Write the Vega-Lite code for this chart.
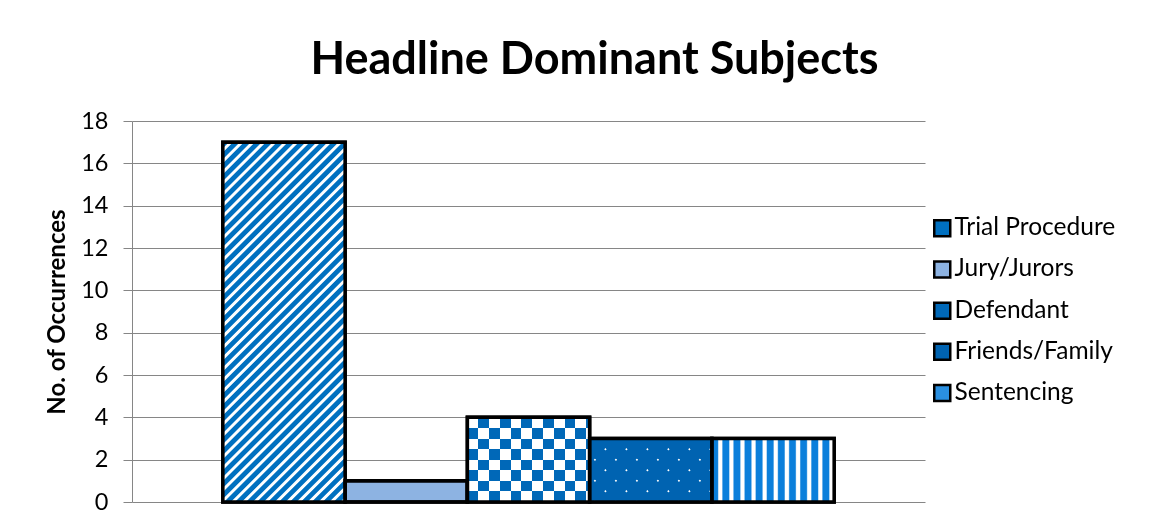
{
  "$schema": "https://vega.github.io/schema/vega-lite/v6.json",
  "width": 793,
  "height": 381,
  "autosize": "none",
  "padding": {"left": 132, "top": 121, "right": 244, "bottom": 27},
  "background": "white",
  "title": {"text": "Headline Dominant Subjects", "font": "Lato", "fontSize": 45, "fontWeight": "bold", "color": "black", "anchor": "middle", "dx": 66, "offset": 26},
  "data": {"values": [
    {"subject": "Trial Procedure", "count": 17},
    {"subject": "Jury/Jurors", "count": 1},
    {"subject": "Defendant", "count": 4},
    {"subject": "Friends/Family", "count": 3},
    {"subject": "Sentencing", "count": 3}
  ]},
  "encoding": {
    "x": {"field": "subject", "type": "nominal", "sort": null, "axis": null,
      "scale": {"domain": ["Trial Procedure", "Jury/Jurors", "Defendant", "Friends/Family", "Sentencing"], "paddingInner": 0, "paddingOuter": 0.743}},
    "y": {"field": "count", "type": "quantitative",
      "scale": {"domain": [0, 18], "nice": false},
      "axis": {"title": "No. of Occurrences", "titleFont": "Lato", "titleFontSize": 24, "titleFontWeight": "bold", "titleColor": "black", "titlePadding": 11,
        "labelFont": "Lato", "labelFontSize": 23.5, "labelColor": "black", "labelPadding": 15,
        "values": [0, 2, 4, 6, 8, 10, 12, 14, 16, 18], "tickSize": 9, "tickColor": "#868686", "domainColor": "#868686", "gridColor": "#868686", "gridOpacity": 1, "grid": true}}
  },
  "layer": [
    {"mark": {"type": "bar", "stroke": "black", "strokeWidth": 3.5},
     "encoding": {"color": {"field": "subject", "type": "nominal",
       "scale": {"domain": ["Trial Procedure", "Jury/Jurors", "Defendant", "Friends/Family", "Sentencing"], "range": ["#0070C0", "#8DB3E2", "#0068B8", "#0063B1", "#2A8FE0"]},
       "legend": {"orient": "none", "legendX": 798, "legendY": 95, "title": null, "symbolType": "square", "symbolSize": 256, "symbolStrokeColor": "black", "symbolStrokeWidth": 2.5, "symbolOpacity": 1, "labelFont": "Lato", "labelFontSize": 24.5, "labelColor": "black", "labelLimit": 400, "rowPadding": 14.2, "labelOffset": 0, "padding": 0}}}},
    {"transform": [{"filter": "datum.subject === 'Trial Procedure'"}],
     "mark": {"type": "bar", "strokeWidth": 0, "fill": {"gradient": "linear", "x1": 0, "y1": 0, "x2": 0.4081, "y2": 1.2011, "stops": [
{"offset":0,"color":"#0070C0"},{"offset":0.0114,"color":"#0070C0"},{"offset":0.0141,"color":"#ffffff"},{"offset":0.0200,"color":"#ffffff"},
{"offset":0.0227,"color":"#0070C0"},{"offset":0.0341,"color":"#0070C0"},{"offset":0.0368,"color":"#ffffff"},{"offset":0.0427,"color":"#ffffff"},
{"offset":0.0455,"color":"#0070C0"},{"offset":0.0568,"color":"#0070C0"},{"offset":0.0596,"color":"#ffffff"},{"offset":0.0655,"color":"#ffffff"},
{"offset":0.0682,"color":"#0070C0"},{"offset":0.0795,"color":"#0070C0"},{"offset":0.0823,"color":"#ffffff"},{"offset":0.0882,"color":"#ffffff"},
{"offset":0.0909,"color":"#0070C0"},{"offset":0.1023,"color":"#0070C0"},{"offset":0.1050,"color":"#ffffff"},{"offset":0.1109,"color":"#ffffff"},
{"offset":0.1136,"color":"#0070C0"},{"offset":0.1250,"color":"#0070C0"},{"offset":0.1277,"color":"#ffffff"},{"offset":0.1336,"color":"#ffffff"},
{"offset":0.1364,"color":"#0070C0"},{"offset":0.1477,"color":"#0070C0"},{"offset":0.1505,"color":"#ffffff"},{"offset":0.1564,"color":"#ffffff"},
{"offset":0.1591,"color":"#0070C0"},{"offset":0.1705,"color":"#0070C0"},{"offset":0.1732,"color":"#ffffff"},{"offset":0.1791,"color":"#ffffff"},
{"offset":0.1818,"color":"#0070C0"},{"offset":0.1932,"color":"#0070C0"},{"offset":0.1959,"color":"#ffffff"},{"offset":0.2018,"color":"#ffffff"},
{"offset":0.2045,"color":"#0070C0"},{"offset":0.2159,"color":"#0070C0"},{"offset":0.2186,"color":"#ffffff"},{"offset":0.2245,"color":"#ffffff"},
{"offset":0.2273,"color":"#0070C0"},{"offset":0.2386,"color":"#0070C0"},{"offset":0.2414,"color":"#ffffff"},{"offset":0.2473,"color":"#ffffff"},
{"offset":0.2500,"color":"#0070C0"},{"offset":0.2614,"color":"#0070C0"},{"offset":0.2641,"color":"#ffffff"},{"offset":0.2700,"color":"#ffffff"},
{"offset":0.2727,"color":"#0070C0"},{"offset":0.2841,"color":"#0070C0"},{"offset":0.2868,"color":"#ffffff"},{"offset":0.2927,"color":"#ffffff"},
{"offset":0.2955,"color":"#0070C0"},{"offset":0.3068,"color":"#0070C0"},{"offset":0.3096,"color":"#ffffff"},{"offset":0.3155,"color":"#ffffff"},
{"offset":0.3182,"color":"#0070C0"},{"offset":0.3295,"color":"#0070C0"},{"offset":0.3323,"color":"#ffffff"},{"offset":0.3382,"color":"#ffffff"},
{"offset":0.3409,"color":"#0070C0"},{"offset":0.3523,"color":"#0070C0"},{"offset":0.3550,"color":"#ffffff"},{"offset":0.3609,"color":"#ffffff"},
{"offset":0.3636,"color":"#0070C0"},{"offset":0.3750,"color":"#0070C0"},{"offset":0.3777,"color":"#ffffff"},{"offset":0.3836,"color":"#ffffff"},
{"offset":0.3864,"color":"#0070C0"},{"offset":0.3977,"color":"#0070C0"},{"offset":0.4005,"color":"#ffffff"},{"offset":0.4064,"color":"#ffffff"},
{"offset":0.4091,"color":"#0070C0"},{"offset":0.4205,"color":"#0070C0"},{"offset":0.4232,"color":"#ffffff"},{"offset":0.4291,"color":"#ffffff"},
{"offset":0.4318,"color":"#0070C0"},{"offset":0.4432,"color":"#0070C0"},{"offset":0.4459,"color":"#ffffff"},{"offset":0.4518,"color":"#ffffff"},
{"offset":0.4545,"color":"#0070C0"},{"offset":0.4659,"color":"#0070C0"},{"offset":0.4686,"color":"#ffffff"},{"offset":0.4745,"color":"#ffffff"},
{"offset":0.4773,"color":"#0070C0"},{"offset":0.4886,"color":"#0070C0"},{"offset":0.4914,"color":"#ffffff"},{"offset":0.4973,"color":"#ffffff"},
{"offset":0.5000,"color":"#0070C0"},{"offset":0.5114,"color":"#0070C0"},{"offset":0.5141,"color":"#ffffff"},{"offset":0.5200,"color":"#ffffff"},
{"offset":0.5227,"color":"#0070C0"},{"offset":0.5341,"color":"#0070C0"},{"offset":0.5368,"color":"#ffffff"},{"offset":0.5427,"color":"#ffffff"},
{"offset":0.5455,"color":"#0070C0"},{"offset":0.5568,"color":"#0070C0"},{"offset":0.5596,"color":"#ffffff"},{"offset":0.5655,"color":"#ffffff"},
{"offset":0.5682,"color":"#0070C0"},{"offset":0.5795,"color":"#0070C0"},{"offset":0.5823,"color":"#ffffff"},{"offset":0.5882,"color":"#ffffff"},
{"offset":0.5909,"color":"#0070C0"},{"offset":0.6023,"color":"#0070C0"},{"offset":0.6050,"color":"#ffffff"},{"offset":0.6109,"color":"#ffffff"},
{"offset":0.6136,"color":"#0070C0"},{"offset":0.6250,"color":"#0070C0"},{"offset":0.6277,"color":"#ffffff"},{"offset":0.6336,"color":"#ffffff"},
{"offset":0.6364,"color":"#0070C0"},{"offset":0.6477,"color":"#0070C0"},{"offset":0.6505,"color":"#ffffff"},{"offset":0.6564,"color":"#ffffff"},
{"offset":0.6591,"color":"#0070C0"},{"offset":0.6705,"color":"#0070C0"},{"offset":0.6732,"color":"#ffffff"},{"offset":0.6791,"color":"#ffffff"},
{"offset":0.6818,"color":"#0070C0"},{"offset":0.6932,"color":"#0070C0"},{"offset":0.6959,"color":"#ffffff"},{"offset":0.7018,"color":"#ffffff"},
{"offset":0.7045,"color":"#0070C0"},{"offset":0.7159,"color":"#0070C0"},{"offset":0.7186,"color":"#ffffff"},{"offset":0.7245,"color":"#ffffff"},
{"offset":0.7273,"color":"#0070C0"},{"offset":0.7386,"color":"#0070C0"},{"offset":0.7414,"color":"#ffffff"},{"offset":0.7473,"color":"#ffffff"},
{"offset":0.7500,"color":"#0070C0"},{"offset":0.7614,"color":"#0070C0"},{"offset":0.7641,"color":"#ffffff"},{"offset":0.7700,"color":"#ffffff"},
{"offset":0.7727,"color":"#0070C0"},{"offset":0.7841,"color":"#0070C0"},{"offset":0.7868,"color":"#ffffff"},{"offset":0.7927,"color":"#ffffff"},
{"offset":0.7955,"color":"#0070C0"},{"offset":0.8068,"color":"#0070C0"},{"offset":0.8096,"color":"#ffffff"},{"offset":0.8155,"color":"#ffffff"},
{"offset":0.8182,"color":"#0070C0"},{"offset":0.8295,"color":"#0070C0"},{"offset":0.8323,"color":"#ffffff"},{"offset":0.8382,"color":"#ffffff"},
{"offset":0.8409,"color":"#0070C0"},{"offset":0.8523,"color":"#0070C0"},{"offset":0.8550,"color":"#ffffff"},{"offset":0.8609,"color":"#ffffff"},
{"offset":0.8636,"color":"#0070C0"},{"offset":0.8750,"color":"#0070C0"},{"offset":0.8777,"color":"#ffffff"},{"offset":0.8836,"color":"#ffffff"},
{"offset":0.8864,"color":"#0070C0"},{"offset":0.8977,"color":"#0070C0"},{"offset":0.9005,"color":"#ffffff"},{"offset":0.9064,"color":"#ffffff"},
{"offset":0.9091,"color":"#0070C0"},{"offset":0.9205,"color":"#0070C0"},{"offset":0.9232,"color":"#ffffff"},{"offset":0.9291,"color":"#ffffff"},
{"offset":0.9318,"color":"#0070C0"},{"offset":0.9432,"color":"#0070C0"},{"offset":0.9459,"color":"#ffffff"},{"offset":0.9518,"color":"#ffffff"},
{"offset":0.9545,"color":"#0070C0"},{"offset":0.9659,"color":"#0070C0"},{"offset":0.9686,"color":"#ffffff"},{"offset":0.9745,"color":"#ffffff"},
{"offset":0.9773,"color":"#0070C0"},{"offset":0.9886,"color":"#0070C0"},{"offset":0.9914,"color":"#ffffff"},{"offset":0.9973,"color":"#ffffff"},
{"offset":1,"color":"#0070C0"}
     ]}}},
    {"transform": [{"filter": "datum.subject === 'Defendant'"}],
     "mark": {"type": "bar", "strokeWidth": 0, "fill": {"gradient": "linear", "x1": 0, "y1": 0, "x2": 1, "y2": 0, "stops": [
{"offset":0,"color":"#ffffff"},{"offset":0.0883,"color":"#ffffff"},{"offset":0.0883,"color":"#000000"},{"offset":0.1767,"color":"#000000"},
{"offset":0.1767,"color":"#ffffff"},{"offset":0.2650,"color":"#ffffff"},{"offset":0.2650,"color":"#000000"},{"offset":0.3534,"color":"#000000"},
{"offset":0.3534,"color":"#ffffff"},{"offset":0.4417,"color":"#ffffff"},{"offset":0.4417,"color":"#000000"},{"offset":0.5300,"color":"#000000"},
{"offset":0.5300,"color":"#ffffff"},{"offset":0.6184,"color":"#ffffff"},{"offset":0.6184,"color":"#000000"},{"offset":0.7067,"color":"#000000"},
{"offset":0.7067,"color":"#ffffff"},{"offset":0.7951,"color":"#ffffff"},{"offset":0.7951,"color":"#000000"},{"offset":0.8834,"color":"#000000"},
{"offset":0.8834,"color":"#ffffff"},{"offset":0.9717,"color":"#ffffff"},{"offset":0.9717,"color":"#000000"},{"offset":1,"color":"#000000"}
     ]}}},
    {"transform": [{"filter": "datum.subject === 'Defendant'"}],
     "mark": {"type": "bar", "strokeWidth": 0, "blend": "difference", "fill": {"gradient": "linear", "x1": 0, "y1": 0, "x2": 0, "y2": 1, "stops": [
{"offset":0,"color":"#000000"},{"offset":0.125,"color":"#000000"},{"offset":0.125,"color":"#ffffff"},{"offset":0.25,"color":"#ffffff"},
{"offset":0.25,"color":"#000000"},{"offset":0.375,"color":"#000000"},{"offset":0.375,"color":"#ffffff"},{"offset":0.5,"color":"#ffffff"},
{"offset":0.5,"color":"#000000"},{"offset":0.625,"color":"#000000"},{"offset":0.625,"color":"#ffffff"},{"offset":0.75,"color":"#ffffff"},
{"offset":0.75,"color":"#000000"},{"offset":0.875,"color":"#000000"},{"offset":0.875,"color":"#ffffff"},{"offset":1,"color":"#ffffff"}
     ]}}},
    {"transform": [{"filter": "datum.subject === 'Defendant'"}],
     "mark": {"type": "bar", "strokeWidth": 0, "blend": "screen", "fill": "#0068B8"}},
    {"transform": [{"filter": "datum.subject === 'Friends/Family'"}],
     "mark": {"type": "bar", "strokeWidth": 0, "fill": {"gradient": "linear", "x1": 0, "y1": 0, "x2": 1.1966, "y2": 0.6215, "stops": [
{"offset":0,"color":"#000000"},
{"offset":0.020,"color":"#000000"},{"offset":0.027,"color":"#ffffff"},{"offset":0.033,"color":"#ffffff"},{"offset":0.040,"color":"#000000"},
{"offset":0.133,"color":"#000000"},{"offset":0.140,"color":"#ffffff"},{"offset":0.146,"color":"#ffffff"},{"offset":0.153,"color":"#000000"},
{"offset":0.246,"color":"#000000"},{"offset":0.253,"color":"#ffffff"},{"offset":0.259,"color":"#ffffff"},{"offset":0.266,"color":"#000000"},
{"offset":0.359,"color":"#000000"},{"offset":0.366,"color":"#ffffff"},{"offset":0.372,"color":"#ffffff"},{"offset":0.379,"color":"#000000"},
{"offset":0.472,"color":"#000000"},{"offset":0.479,"color":"#ffffff"},{"offset":0.485,"color":"#ffffff"},{"offset":0.492,"color":"#000000"},
{"offset":0.585,"color":"#000000"},{"offset":0.592,"color":"#ffffff"},{"offset":0.598,"color":"#ffffff"},{"offset":0.605,"color":"#000000"},
{"offset":0.698,"color":"#000000"},{"offset":0.705,"color":"#ffffff"},{"offset":0.711,"color":"#ffffff"},{"offset":0.718,"color":"#000000"},
{"offset":0.811,"color":"#000000"},{"offset":0.818,"color":"#ffffff"},{"offset":0.824,"color":"#ffffff"},{"offset":0.831,"color":"#000000"},
{"offset":0.924,"color":"#000000"},{"offset":0.931,"color":"#ffffff"},{"offset":0.937,"color":"#ffffff"},{"offset":0.944,"color":"#000000"},
{"offset":1,"color":"#000000"}
     ]}}},
    {"transform": [{"filter": "datum.subject === 'Friends/Family'"}],
     "mark": {"type": "bar", "strokeWidth": 0, "blend": "multiply", "fill": {"gradient": "linear", "x1": 0, "y1": 1, "x2": 1.1966, "y2": 0.3785, "stops": [
{"offset":0,"color":"#000000"},
{"offset":0.020,"color":"#000000"},{"offset":0.027,"color":"#ffffff"},{"offset":0.033,"color":"#ffffff"},{"offset":0.040,"color":"#000000"},
{"offset":0.133,"color":"#000000"},{"offset":0.140,"color":"#ffffff"},{"offset":0.146,"color":"#ffffff"},{"offset":0.153,"color":"#000000"},
{"offset":0.246,"color":"#000000"},{"offset":0.253,"color":"#ffffff"},{"offset":0.259,"color":"#ffffff"},{"offset":0.266,"color":"#000000"},
{"offset":0.359,"color":"#000000"},{"offset":0.366,"color":"#ffffff"},{"offset":0.372,"color":"#ffffff"},{"offset":0.379,"color":"#000000"},
{"offset":0.472,"color":"#000000"},{"offset":0.479,"color":"#ffffff"},{"offset":0.485,"color":"#ffffff"},{"offset":0.492,"color":"#000000"},
{"offset":0.585,"color":"#000000"},{"offset":0.592,"color":"#ffffff"},{"offset":0.598,"color":"#ffffff"},{"offset":0.605,"color":"#000000"},
{"offset":0.698,"color":"#000000"},{"offset":0.705,"color":"#ffffff"},{"offset":0.711,"color":"#ffffff"},{"offset":0.718,"color":"#000000"},
{"offset":0.811,"color":"#000000"},{"offset":0.818,"color":"#ffffff"},{"offset":0.824,"color":"#ffffff"},{"offset":0.831,"color":"#000000"},
{"offset":0.924,"color":"#000000"},{"offset":0.931,"color":"#ffffff"},{"offset":0.937,"color":"#ffffff"},{"offset":0.944,"color":"#000000"},
{"offset":1,"color":"#000000"}
     ]}}},
    {"transform": [{"filter": "datum.subject === 'Friends/Family'"}],
     "mark": {"type": "bar", "strokeWidth": 0, "blend": "screen", "fill": "#0063B1"}},
    {"transform": [{"filter": "datum.subject === 'Sentencing'"}],
     "mark": {"type": "bar", "strokeWidth": 0, "fill": {"gradient": "linear", "x1": 0, "y1": 0, "x2": 1, "y2": 0, "stops": [
{"offset":0,"color":"#0B7FDB"},{"offset":0.0455,"color":"#0B7FDB"},{"offset":0.0564,"color":"#ffffff"},{"offset":0.0800,"color":"#ffffff"},
{"offset":0.0909,"color":"#0B7FDB"},{"offset":0.1364,"color":"#0B7FDB"},{"offset":0.1473,"color":"#ffffff"},{"offset":0.1709,"color":"#ffffff"},
{"offset":0.1818,"color":"#0B7FDB"},{"offset":0.2273,"color":"#0B7FDB"},{"offset":0.2382,"color":"#ffffff"},{"offset":0.2618,"color":"#ffffff"},
{"offset":0.2727,"color":"#0B7FDB"},{"offset":0.3182,"color":"#0B7FDB"},{"offset":0.3291,"color":"#ffffff"},{"offset":0.3527,"color":"#ffffff"},
{"offset":0.3636,"color":"#0B7FDB"},{"offset":0.4091,"color":"#0B7FDB"},{"offset":0.4200,"color":"#ffffff"},{"offset":0.4436,"color":"#ffffff"},
{"offset":0.4545,"color":"#0B7FDB"},{"offset":0.5000,"color":"#0B7FDB"},{"offset":0.5109,"color":"#ffffff"},{"offset":0.5345,"color":"#ffffff"},
{"offset":0.5455,"color":"#0B7FDB"},{"offset":0.5909,"color":"#0B7FDB"},{"offset":0.6018,"color":"#ffffff"},{"offset":0.6255,"color":"#ffffff"},
{"offset":0.6364,"color":"#0B7FDB"},{"offset":0.6818,"color":"#0B7FDB"},{"offset":0.6927,"color":"#ffffff"},{"offset":0.7164,"color":"#ffffff"},
{"offset":0.7273,"color":"#0B7FDB"},{"offset":0.7727,"color":"#0B7FDB"},{"offset":0.7836,"color":"#ffffff"},{"offset":0.8073,"color":"#ffffff"},
{"offset":0.8182,"color":"#0B7FDB"},{"offset":0.8636,"color":"#0B7FDB"},{"offset":0.8745,"color":"#ffffff"},{"offset":0.8982,"color":"#ffffff"},
{"offset":0.9091,"color":"#0B7FDB"},{"offset":0.9545,"color":"#0B7FDB"},{"offset":0.9655,"color":"#ffffff"},{"offset":0.9891,"color":"#ffffff"},
{"offset":1,"color":"#0B7FDB"}
     ]}}},
    {"mark": {"type": "bar", "fillOpacity": 0, "fill": "white", "stroke": "black", "strokeWidth": 3.5}}
  ],
  "config": {"view": {"stroke": null}}
}
